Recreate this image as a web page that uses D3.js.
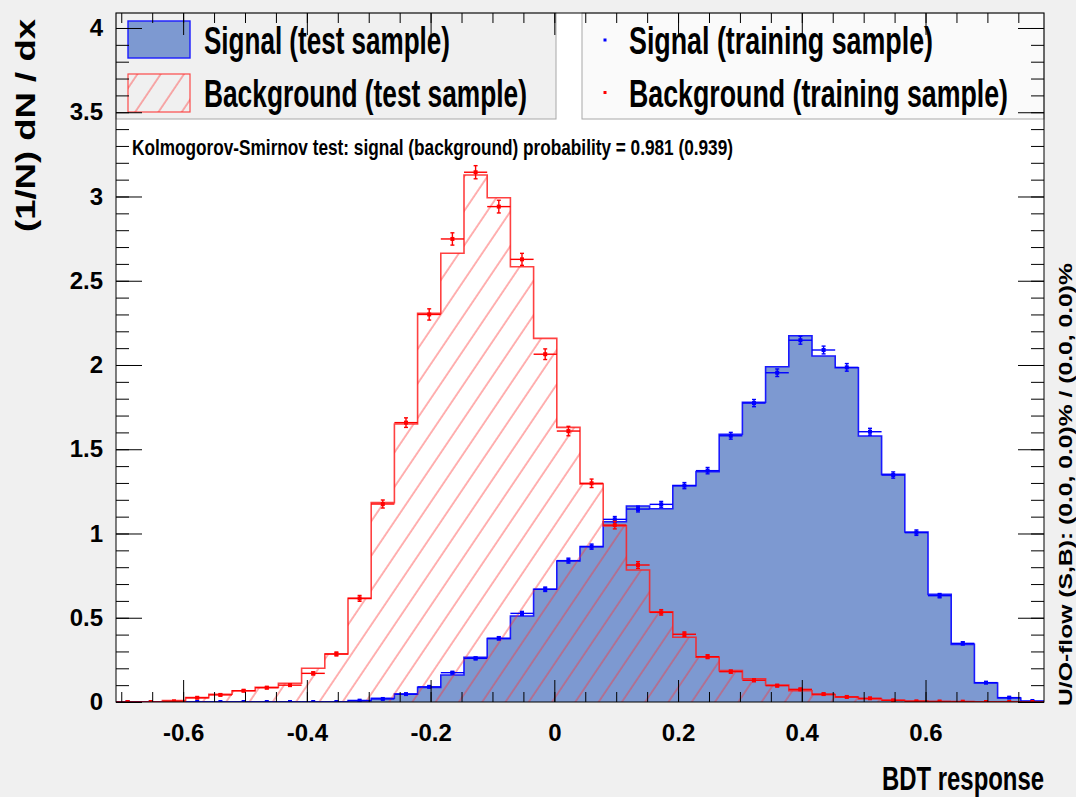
<!DOCTYPE html>
<html><head><meta charset="utf-8">
<script src="https://cdn.jsdelivr.net/npm/d3@7"></script>
<style>html,body{margin:0;padding:0;background:#f0f0f0;} svg{display:block}</style>
</head><body>
<svg id="c" width="1076" height="797"></svg>
<script>
// ---------------- data ----------------
const xRange = [-0.7085, 0.7915];
const nBins = 40;
const yMaxValue = 4.089;

const sigTest = [0,0,0,0,0,0,0,0,0,0,
  0.008,0.022,0.047,0.087,0.160,0.265,0.376,0.510,0.669,0.837,
  0.922,1.070,1.163,1.147,1.284,1.367,1.589,1.779,1.990,2.174,
  2.053,1.984,1.579,1.351,1.009,0.639,0.342,0.113,0.024,0.002];
const sigTrain = [0,0,0,0,0,0,0,0,0,0,
  0.008,0.018,0.047,0.090,0.174,0.259,0.378,0.526,0.669,0.839,
  0.922,1.084,1.145,1.173,1.284,1.373,1.580,1.774,1.954,2.147,
  2.089,1.986,1.604,1.347,1.005,0.631,0.348,0.115,0.026,0.006];
const bkgTest = [0,0,0.008,0.026,0.046,0.067,0.087,0.111,0.200,0.285,
  0.615,1.183,1.650,2.307,2.663,3.128,2.993,2.583,2.158,1.630,
  1.294,1.045,0.783,0.536,0.384,0.266,0.186,0.138,0.101,0.067,
  0.043,0.030,0.018,0.010,0.006,0.003,0.002,0,0,0];
const bkgTrain = [0,0,0.004,0.025,0.042,0.067,0.085,0.100,0.170,0.285,
  0.615,1.175,1.658,2.300,2.748,3.144,2.940,2.627,2.064,1.608,
  1.298,1.050,0.813,0.532,0.402,0.269,0.180,0.129,0.097,0.075,
  0.047,0.030,0.022,0.010,0.004,0.003,0.002,0,0,0];

const xTickValues = [-0.6,-0.4,-0.2,0,0.2,0.4,0.6];
const xTickLabels = ["-0.6","-0.4","-0.2","0","0.2","0.4","0.6"];
const yTickValues = [0,0.5,1,1.5,2,2.5,3,3.5,4];
const yTickLabels = ["0","0.5","1","1.5","2","2.5","3","3.5","4"];
const legendTest = ["Signal (test sample)","Background (test sample)"];
const legendTrain = ["Signal (training sample)","Background (training sample)"];
const xTitle = "BDT response";
const yTitle = "(1/N) dN / dx";
const ksText = "Kolmogorov-Smirnov test: signal (background) probability = 0.981 (0.939)";
const overflowText = "U/O-flow (S,B): (0.0, 0.0)% / (0.0, 0.0)%";

// ---------------- layout ----------------
const W = 1076, H = 797;
const L = 116, R = 1044, T = 13, B = 702;
const sigFill = "#7d99d1", sigLine = "#1a1aff", bkgLine = "#ff2020";
const narrow = "'Liberation Sans Narrow','Liberation Sans',Arial,sans-serif";
const wide = "'Liberation Sans',Arial,sans-serif";

const svg = d3.select("#c");
const x = d3.scaleLinear().domain(xRange).range([L, R]);
const y = d3.scaleLinear().domain([0, yMaxValue]).range([B, T]);
const bw = (xRange[1] - xRange[0]) / nBins;
const edges = d3.range(nBins + 1).map(i => xRange[0] + i * bw);

svg.append("rect").attr("width", W).attr("height", H).attr("fill", "#f0f0f0");
svg.append("rect").attr("x", L).attr("y", T).attr("width", R - L).attr("height", B - T).attr("fill", "#fff");

const defs = svg.append("defs");
defs.append("clipPath").attr("id", "clip").append("rect")
  .attr("x", L).attr("y", T).attr("width", R - L).attr("height", B - T);
const pat = defs.append("pattern").attr("id", "hatch").attr("patternUnits", "userSpaceOnUse")
  .attr("width", 19.3).attr("height", 20).attr("patternTransform", "rotate(34)");
pat.append("line").attr("x1", 1).attr("x2", 1).attr("y1", -2).attr("y2", 22)
  .attr("stroke", "#ff3030").attr("stroke-width", 0.9).attr("stroke-opacity", 0.85);

function stepPoints(vals) {
  const pts = [[edges[0], 0]];
  vals.forEach((v, i) => pts.push([edges[i], v]));
  pts.push([edges[nBins], vals[nBins - 1]]);
  pts.push([edges[nBins], 0]);
  return pts;
}
const area = d3.area().x(d => x(d[0])).y0(y(0)).y1(d => y(d[1])).curve(d3.curveStepAfter);
const line = d3.line().x(d => x(d[0])).y(d => y(d[1])).curve(d3.curveStepAfter);

const plot = svg.append("g").attr("clip-path", "url(#clip)");
// signal test
plot.append("path").attr("d", area(stepPoints(sigTest))).attr("fill", sigFill);
plot.append("path").attr("d", line(stepPoints(sigTest))).attr("fill", "none")
  .attr("stroke", sigLine).attr("stroke-width", 1.6);
// background test
plot.append("path").attr("d", area(stepPoints(bkgTest))).attr("fill", "url(#hatch)");
plot.append("path").attr("d", line(stepPoints(bkgTest))).attr("fill", "none")
  .attr("stroke", bkgLine).attr("stroke-width", 1.6).attr("stroke-opacity", 0.85);

function drawPoints(vals, color, errScale) {
  const g = plot.append("g").attr("stroke", color).attr("fill", color).attr("stroke-width", 1.4);
  vals.forEach((v, i) => {
    const cx = x(edges[i] + bw / 2), cy = y(v);
    const e = errScale * Math.sqrt(v);
    g.append("line").attr("x1", x(edges[i])).attr("x2", x(edges[i + 1])).attr("y1", cy).attr("y2", cy);
    if (v > 0) {
      const y1 = y(v + e), y2 = y(v - e);
      g.append("line").attr("x1", cx).attr("x2", cx).attr("y1", y1).attr("y2", y2);
      g.append("line").attr("x1", cx - 2).attr("x2", cx + 2).attr("y1", y1).attr("y2", y1);
      g.append("line").attr("x1", cx - 2).attr("x2", cx + 2).attr("y1", y2).attr("y2", y2);
    }
    g.append("rect").attr("x", cx - 2).attr("y", cy - 2).attr("width", 4).attr("height", 4).attr("stroke", "none");
  });
}
drawPoints(sigTrain, "#0000ff", 0.016);
drawPoints(bkgTrain, "#ff0000", 0.022);

// ---------------- legends ----------------
svg.append("rect").attr("x", L).attr("y", T).attr("width", 440).attr("height", 106)
  .attr("fill", "#f0f0f0").attr("stroke", "#a8a8a8").attr("stroke-width", 1);
svg.append("rect").attr("x", 582).attr("y", T).attr("width", R - 582).attr("height", 106)
  .attr("fill", "#fafafa").attr("stroke", "#a8a8a8").attr("stroke-width", 1);
svg.append("rect").attr("x", 128).attr("y", 21).attr("width", 62).attr("height", 37)
  .attr("fill", sigFill).attr("stroke", sigLine).attr("stroke-width", 1.4);
svg.append("rect").attr("x", 128).attr("y", 74).attr("width", 62).attr("height", 38)
  .attr("fill", "url(#hatch)").attr("stroke", bkgLine).attr("stroke-width", 1.2).attr("stroke-opacity", 0.8);
svg.append("rect").attr("x", 603.5).attr("y", 38.5).attr("width", 3).attr("height", 3).attr("fill", "#0000ff");
svg.append("rect").attr("x", 603.5).attr("y", 91).attr("width", 3).attr("height", 3).attr("fill", "#ff0000");

function txt(str, xx, yy, size, len, family, anchor) {
  return svg.append("text").attr("x", xx).attr("y", yy).text(str)
    .attr("font-family", family || narrow).attr("font-weight", "bold").attr("font-size", size)
    .attr("fill", "#000").attr("text-anchor", anchor || "start")
    .attr("textLength", len).attr("lengthAdjust", "spacingAndGlyphs");
}
txt(legendTest[0], 204, 53.5, 38, 246);
txt(legendTest[1], 204, 106.5, 38, 323);
txt(legendTrain[0], 629, 53.5, 38, 304);
txt(legendTrain[1], 629, 106.5, 38, 379);
txt(ksText, 132, 155, 22, 601);
txt(xTitle, 882, 790, 33, 162);

svg.append("text").text(yTitle).attr("transform", "translate(35,19) rotate(-90)")
  .attr("text-anchor", "end").attr("font-family", wide).attr("font-weight", "bold")
  .attr("font-size", 27).attr("textLength", 213).attr("lengthAdjust", "spacingAndGlyphs");
svg.append("text").text(overflowText).attr("transform", "translate(1072,706) rotate(-90)")
  .attr("text-anchor", "start").attr("font-family", wide).attr("font-weight", "bold")
  .attr("font-size", 19).attr("textLength", 443).attr("lengthAdjust", "spacingAndGlyphs");

// ---------------- axes ----------------
function styleAxis(g) {
  g.select(".domain").remove();
  g.selectAll(".tick line").attr("stroke", "#000").attr("stroke-width", 1);
  g.selectAll("text").attr("font-family", narrow).attr("font-weight", "bold")
    .attr("font-size", 24).attr("fill", "#000");
}
const xMinor = d3.range(-14, 16).map(k => k * 0.05);
const yMinor = d3.range(0, 41).map(k => k * 0.1);

svg.append("g").attr("transform", `translate(0,${B})`)
  .call(d3.axisBottom(x).tickValues(xMinor).tickSize(-10).tickFormat("")).call(styleAxis);
svg.append("g").attr("transform", `translate(0,${B})`)
  .call(d3.axisBottom(x).tickValues(xTickValues).tickSize(-22).tickPadding(22)
    .tickFormat((d, i) => xTickLabels[i])).call(styleAxis);
svg.append("g").attr("transform", `translate(0,${T})`)
  .call(d3.axisTop(x).tickValues(xMinor).tickSize(-10).tickFormat("")).call(styleAxis);
svg.append("g").attr("transform", `translate(0,${T})`)
  .call(d3.axisTop(x).tickValues(xTickValues).tickSize(-22).tickFormat("")).call(styleAxis);

svg.append("g").attr("transform", `translate(${L},0)`)
  .call(d3.axisLeft(y).tickValues(yMinor).tickSize(-13).tickFormat("")).call(styleAxis);
svg.append("g").attr("transform", `translate(${L},0)`)
  .call(d3.axisLeft(y).tickValues(yTickValues).tickSize(-26).tickPadding(13)
    .tickFormat((d, i) => yTickLabels[i])).call(styleAxis);
svg.append("g").attr("transform", `translate(${R},0)`)
  .call(d3.axisRight(y).tickValues(yMinor).tickSize(-13).tickFormat("")).call(styleAxis);
svg.append("g").attr("transform", `translate(${R},0)`)
  .call(d3.axisRight(y).tickValues(yTickValues).tickSize(-26).tickFormat("")).call(styleAxis);

svg.append("rect").attr("x", L).attr("y", T).attr("width", R - L).attr("height", B - T)
  .attr("fill", "none").attr("stroke", "#000").attr("stroke-width", 1);
</script>
</body></html>
